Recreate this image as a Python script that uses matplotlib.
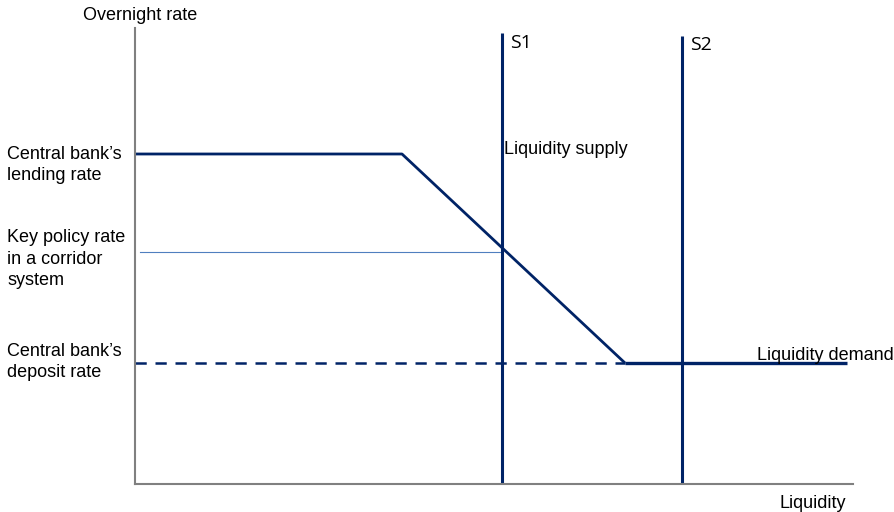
import matplotlib
matplotlib.use("Agg")
import matplotlib.pyplot as plt

# Schematic values (liquidity units, rate units)
rate_labels = ["Central bank\u2019s\nlending rate", "Key policy rate\nin a corridor\nsystem", "Central bank\u2019s\ndeposit rate"]
lending_rate = 330
key_rate = 232
deposit_rate = 121
demand_x = [0, 267, 490, 712]
demand_y = [lending_rate, lending_rate, deposit_rate, deposit_rate]
supply_names = ["S1", "S2"]
supply_x = [367, 547]
supply_top = [451, 448]
x_max = 718
y_max = 456

navy = "#002366"
plt.rcParams['font.family'] = ['Liberation Sans', 'DejaVu Sans']
FS = 13

fig = plt.figure(figsize=(8.94, 5.12), dpi=100)
ax = fig.add_axes([135/894, 1-484/512, (853-135)/894, (484-28)/512])
ax.set_xlim(0, x_max)
ax.set_ylim(0, y_max)

# demand curve
ax.plot(demand_x[:3], demand_y[:3], color=navy, lw=2.0, solid_capstyle='butt')
ax.plot(demand_x[2:], demand_y[2:], color=navy, lw=2.4, solid_capstyle='butt')
# dashed deposit rate
ax.plot([0, demand_x[2]], [deposit_rate, deposit_rate], color=navy, lw=1.8,
        dashes=(4.5, 3.5))
# key policy rate
ax.plot([5, supply_x[0]], [key_rate, key_rate], color="#4f7fbf", lw=0.8)
# supply lines
for name, sx, st in zip(supply_names, supply_x, supply_top):
    ax.plot([sx, sx], [0, st], color=navy, lw=2.2, solid_capstyle='butt')
    ax.text(sx + 8, st - 0.5, name, fontsize=14, family=['Open Sans', 'DejaVu Sans'],
            ha='left', va='top', color='black')

ax.text(supply_x[0] + 2, 334, "Liquidity supply", fontsize=FS, ha='left', va='center')
ax.text(622, 128, "Liquidity demand", fontsize=FS, ha='left', va='center',
        clip_on=False)

# spines
for s in ['top', 'right']:
    ax.spines[s].set_visible(False)
for s in ['left', 'bottom']:
    ax.spines[s].set_color('#808080')
    ax.spines[s].set_linewidth(1.5)
ax.set_xticks([])
ax.set_yticks([])

# axis labels
fig.text(140/894, 1-15/512, "Overnight rate", fontsize=FS, ha='center', va='center')
fig.text(846/894, 1-503/512, "Liquidity", fontsize=FS, ha='right', va='center')

# rate labels
for lab, yc in zip(rate_labels, [165, 259, 362]):
    fig.text(7/894, 1-yc/512, lab, fontsize=FS, ha='left', va='center', linespacing=1.38)

fig.savefig("out.png", dpi=100)
